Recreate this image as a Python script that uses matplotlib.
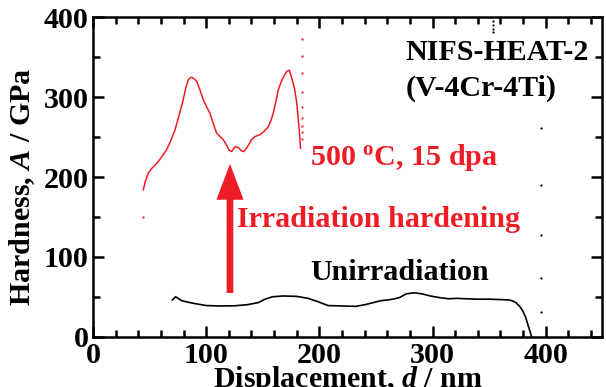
import matplotlib
matplotlib.use("Agg")
import matplotlib.pyplot as plt
from matplotlib.ticker import MultipleLocator

plt.rcParams['font.family'] = ['Liberation Serif', 'DejaVu Serif']
plt.rcParams['font.weight'] = 'bold'
plt.rcParams['mathtext.fontset'] = 'custom'
plt.rcParams['mathtext.rm'] = 'Liberation Serif:bold'
plt.rcParams['mathtext.it'] = 'Liberation Serif:italic:bold'
plt.rcParams['mathtext.bf'] = 'Liberation Serif:bold'

RED = '#ee1c25'

# irradiated (500 C, 15 dpa) loading curve
irr_x = [44.4, 46.5, 48.9, 52, 56.2, 60, 65, 68.5, 72.4, 76, 79.7, 82, 84.2, 86.5, 88.6,
         91.5, 94, 97.4, 100, 103.3, 106, 109.2, 112, 115, 118, 120, 122.5, 125.5, 128.3,
         131, 133.3, 136.5, 140.1, 143.5, 147.5, 151, 154.8, 157, 159.2, 161.5, 163.6, 167,
         171, 173.5, 175.5, 178, 180, 181.8, 183.4]
irr_y = [184, 196, 205, 211, 217, 224, 234, 245, 259, 277, 297, 312, 322, 325, 324,
         320, 311, 297, 289, 280, 268, 255, 251, 247, 240, 234, 232, 238, 237,
         233, 232, 238, 247, 251, 253, 257, 263, 270, 280, 294, 309, 322,
         332, 334, 324, 311, 293, 265, 236]
# isolated first point and unloading dots
irr_dot_x = [44.0, 184.2, 184.2, 184.2, 184.2, 184.2, 184.2, 184.2, 184.2, 184.2]
irr_dot_y = [150, 373, 352, 330, 307, 288, 274, 264, 256, 248]

# unirradiated curve
un_x = [70, 73, 78.5, 88, 100, 112, 124.6, 136, 146, 152, 158.4, 168, 180, 190, 198.4,
        207.6, 220, 232, 240, 247.6, 254, 260, 265, 270.7, 276.8, 284, 290.6, 298, 306,
        314, 321, 330, 339.8, 350, 360, 367.5, 370.5, 373.6, 377, 379.8, 382.3, 384.4,
        386, 387.5]
un_y = [46, 50, 45, 42, 39, 38.5, 38.7, 40, 42.7, 47, 50, 51, 50.5, 48, 44,
        39, 38.5, 38, 40, 42.7, 45, 46, 47, 49, 53.7, 55, 53.7, 51, 49,
        47.5, 48, 47.5, 47, 47, 46.5, 46, 45, 42.7, 38, 32, 24, 14,
        7, 0]
un_dot_x = [395.6, 395.6, 395.6, 395.6, 395.6, 353, 353, 353, 353]
un_dot_y = [262, 190, 127, 73, 31, 395, 390, 386, 382]

fig = plt.figure(figsize=(6.06, 3.87), dpi=100)
ax = fig.add_axes([0.1535, 0.130, 0.8405, 0.825])

ax.plot(irr_x, irr_y, color=RED, lw=1.1)
ax.plot(irr_dot_x, irr_dot_y, ls='none', marker='o', ms=1.6, color=RED, mec='none')
ax.plot(un_x, un_y, color='black', lw=1.2)
ax.plot(un_dot_x, un_dot_y, ls='none', marker='o', ms=1.6, color='black', mec='none')

# irradiation hardening arrow
ax.arrow(121, 54.8, 0, 216.6 - 54.8, width=5.9, head_width=24, head_length=45,
         length_includes_head=True, color=RED, lw=0)

fs = 21.6
ax.text(276.4, 355.5, 'NIFS-HEAT-2', fontsize=fs, fontweight='bold', va='center')
ax.text(276.4, 311.7, '(V-4Cr-4Ti)', fontsize=fs, fontweight='bold', va='center')
ax.text(191.6, 225, '500 $^{\\rm o}$C, 15 dpa', fontsize=fs, fontweight='bold',
        color=RED, va='center')
ax.text(127, 147, 'Irradiation hardening', fontsize=fs, fontweight='bold',
        color=RED, va='center')
ax.text(191.6, 80, 'Unirradiation', fontsize=fs, fontweight='bold', va='center')

ax.set_xlim(0, 450)
ax.set_ylim(0, 400)
ax.xaxis.set_major_locator(MultipleLocator(100))
ax.xaxis.set_minor_locator(MultipleLocator(20))
ax.yaxis.set_major_locator(MultipleLocator(100))
ax.yaxis.set_minor_locator(MultipleLocator(50))
ax.tick_params(which='both', direction='in', top=True, right=True, width=1.8,
               labelsize=fs)
ax.tick_params(which='major', length=8)
ax.tick_params(which='minor', length=5)
ax.tick_params(axis='x', which='major', pad=4)
ax.tick_params(axis='y', which='major', pad=3)
for s in ax.spines.values():
    s.set_linewidth(1.8)
for lab in ax.get_xticklabels() + ax.get_yticklabels():
    lab.set_fontweight('bold')

ax.set_xlabel('Displacement, $\\it{d}$ / nm', fontsize=fs, fontweight='bold', labelpad=-4)
ax.set_ylabel('Hardness, $\\it{A}$ / GPa', fontsize=fs, fontweight='bold')
ax.yaxis.set_label_coords(-0.11, 0.47)

fig.savefig('out.png', dpi=100)
